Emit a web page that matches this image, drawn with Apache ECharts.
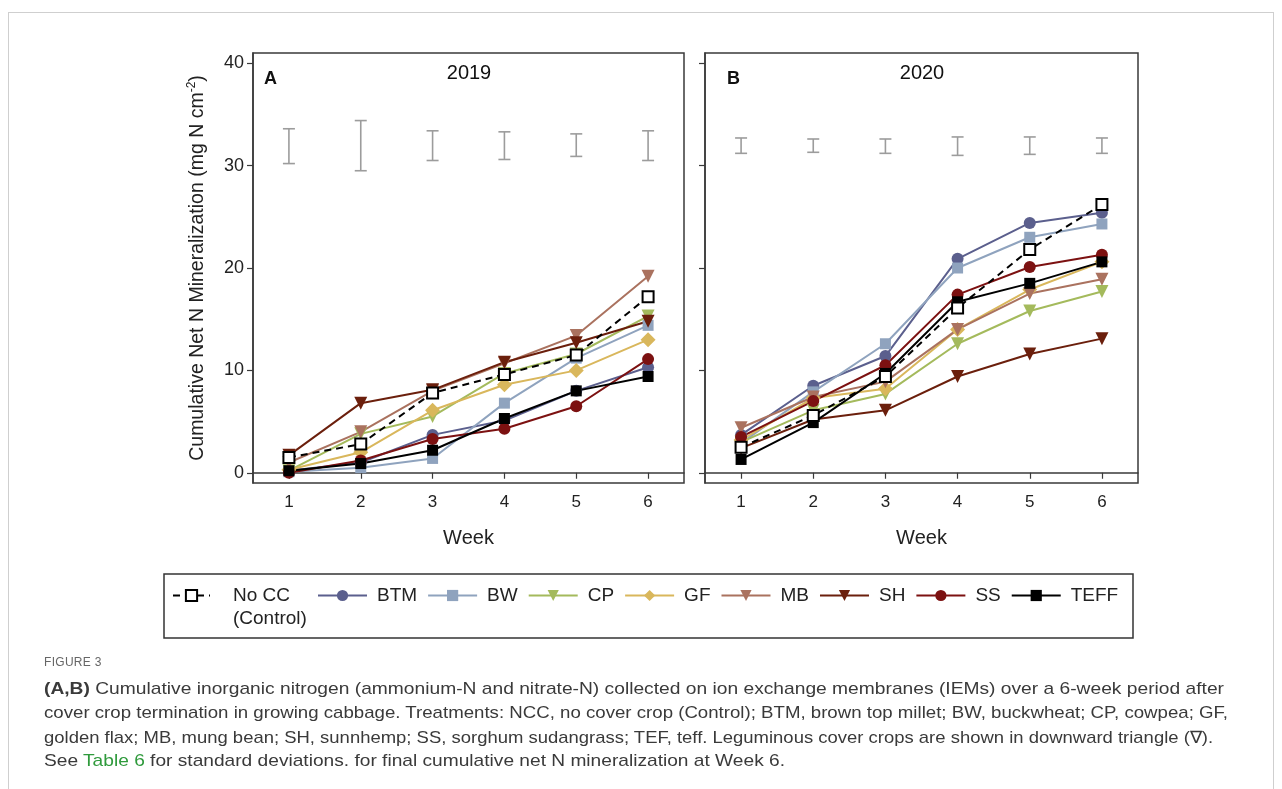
<!DOCTYPE html>
<html>
<head>
<meta charset="utf-8">
<script src="https://cdn.jsdelivr.net/npm/echarts@6/dist/echarts.min.js"></script>
<style>
  html, body { margin:0; padding:0; background:#fff; }
  #wrap { position:relative; width:1282px; height:789px; overflow:hidden; }
  #frame { position:absolute; left:8px; top:12px; width:1266px; height:800px; border:1px solid #cfcfcf; box-sizing:border-box; }
  #chart { position:absolute; left:0; top:0; width:1282px; height:789px; }
  .cap { position:absolute; left:44px; white-space:nowrap; font-family:"Liberation Sans Narrow","Liberation Sans",Arial,sans-serif; color:#3a3a3a; transform-origin:0 50%; }
  .fig { font-size:12px; color:#666; letter-spacing:0.3px; }
  .line { font-size:17px; }
  .lnk { color:#2f9a3c; }
</style>
</head>
<body>
<div id="wrap">
  <div id="frame"></div>
  <div id="chart"></div>
  <div class="cap fig" style="top:655px;">FIGURE 3</div>
  <div class="cap line" data-w="1180" style="top:679px;"><b>(A,B)</b> Cumulative inorganic nitrogen (ammonium-N and nitrate-N) collected on ion exchange membranes (IEMs) over a 6-week period after</div>
  <div class="cap line" data-w="1184" style="top:703px;">cover crop termination in growing cabbage. Treatments: NCC, no cover crop (Control); BTM, brown top millet; BW, buckwheat; CP, cowpea; GF,</div>
  <div class="cap line" data-w="1169" style="top:727px;">golden flax; MB, mung bean; SH, sunnhemp; SS, sorghum sudangrass; TEF, teff. Leguminous cover crops are shown in downward triangle (∇).</div>
  <div class="cap line" data-w="741" style="top:751px;">See <span class="lnk">Table 6</span> for standard deviations. for final cumulative net N mineralization at Week 6.</div>
</div>
<script>
// ---------------- DATA ----------------
const weeks = ['1', '2', '3', '4', '5', '6'];
const yTicks = [0, 10, 20, 30, 40];
const seriesNames = ['No CC', 'BTM', 'BW', 'CP', 'GF', 'MB', 'SH', 'SS', 'TEFF'];

// 2019 (panel A)
const noCC_2019 = [1.5, 2.8, 7.8, 9.6, 11.5, 17.2];
const btm_2019  = [0.2, 1.0, 3.7, 5.1, 8.0, 10.3];
const bw_2019   = [0.1, 0.5, 1.4, 6.8, 11.2, 14.4];
const cp_2019   = [0.2, 3.8, 5.5, 9.7, 11.6, 15.3];
const gf_2019   = [0.3, 2.0, 6.1, 8.6, 10.0, 13.0];
const mb_2019   = [1.0, 4.0, 8.0, 10.7, 13.4, 19.2];
const sh_2019   = [1.7, 6.8, 8.1, 10.8, 12.7, 14.8];
const ss_2019   = [0.0, 1.2, 3.3, 4.3, 6.5, 11.1];
const teff_2019 = [0.2, 0.9, 2.2, 5.3, 8.0, 9.4];

// 2020 (panel B)
const noCC_2020 = [2.5, 5.6, 9.4, 16.1, 21.8, 26.2];
const btm_2020  = [3.7, 8.5, 11.4, 20.9, 24.4, 25.4];
const bw_2020   = [2.9, 7.9, 12.6, 20.0, 23.0, 24.3];
const cp_2020   = [3.0, 6.1, 7.7, 12.6, 15.8, 17.7];
const gf_2020   = [3.2, 7.3, 8.2, 14.0, 17.9, 20.6];
const mb_2020   = [4.4, 7.4, 8.9, 14.0, 17.5, 18.9];
const sh_2020   = [2.4, 5.2, 6.1, 9.4, 11.6, 13.1];
const ss_2020   = [3.5, 7.0, 10.5, 17.4, 20.1, 21.3];
const teff_2020 = [1.3, 4.9, 9.7, 16.7, 18.5, 20.6];

// error bars drawn at top of each panel
const errLow_2019  = [30.2, 29.5, 30.5, 30.6, 30.9, 30.5];
const errHigh_2019 = [33.6, 34.4, 33.4, 33.3, 33.1, 33.4];
const errLow_2020  = [31.2, 31.3, 31.2, 31.0, 31.1, 31.2];
const errHigh_2020 = [32.7, 32.6, 32.6, 32.8, 32.8, 32.7];

// ---------------- STYLES ----------------
const styles = {
  'No CC': { color: '#000000', symbol: 'rect', size: 11, rotate: 0, dashed: true },
  'BTM':   { color: '#5b5f8d', symbol: 'circle', size: 12, rotate: 0 },
  'BW':    { color: '#8fa3be', symbol: 'rect', size: 11, rotate: 0 },
  'CP':    { color: '#a4ba5c', symbol: 'triangle', size: 13, rotate: 180 },
  'GF':    { color: '#d9b75c', symbol: 'diamond', size: 15, rotate: 0 },
  'MB':    { color: '#aa725f', symbol: 'triangle', size: 13, rotate: 180 },
  'SH':    { color: '#6b1f0c', symbol: 'triangle', size: 13, rotate: 180 },
  'SS':    { color: '#7c1111', symbol: 'circle', size: 12, rotate: 0 },
  'TEFF':  { color: '#000000', symbol: 'rect', size: 11, rotate: 0 }
};
const data2019 = { 'No CC': noCC_2019, 'BTM': btm_2019, 'BW': bw_2019, 'CP': cp_2019, 'GF': gf_2019, 'MB': mb_2019, 'SH': sh_2019, 'SS': ss_2019, 'TEFF': teff_2019 };
const data2020 = { 'No CC': noCC_2020, 'BTM': btm_2020, 'BW': bw_2020, 'CP': cp_2020, 'GF': gf_2020, 'MB': mb_2020, 'SH': sh_2020, 'SS': ss_2020, 'TEFF': teff_2020 };
const drawOrder = ['BTM', 'BW', 'CP', 'GF', 'MB', 'SH', 'SS', 'TEFF', 'No CC'];

const FONT = '"Liberation Sans", Arial, sans-serif';
const AXIS_COLOR = '#3a3a3a';

function lineSeries(name, values, idx) {
  const s = styles[name];
  const isOpen = name === 'No CC';
  return {
    type: 'line', name: name, xAxisIndex: idx, yAxisIndex: idx,
    data: values,
    symbol: s.symbol, symbolSize: s.size, symbolRotate: s.rotate,
    showAllSymbol: true,
    lineStyle: { color: s.color, width: 2, type: s.dashed ? [7, 5] : 'solid' },
    itemStyle: isOpen ? { color: '#ffffff', borderColor: '#000', borderWidth: 2 } : { color: s.color, borderWidth: 0 },
    z: isOpen ? 5 : 3,
    animation: false
  };
}

function errSeries(low, high, idx) {
  return {
    type: 'custom', xAxisIndex: idx, yAxisIndex: idx,
    data: weeks.map((w, i) => [i, low[i], high[i]]),
    encode: { x: 0, y: [1, 2] },
    silent: true, animation: false,
    renderItem: function (params, api) {
      const p1 = api.coord([api.value(0), api.value(1)]);
      const p2 = api.coord([api.value(0), api.value(2)]);
      const hw = 6;
      const st = { stroke: '#9c9c9c', lineWidth: 1.6 };
      return { type: 'group', children: [
        { type: 'line', shape: { x1: p1[0], y1: p1[1], x2: p2[0], y2: p2[1] }, style: st },
        { type: 'line', shape: { x1: p1[0] - hw, y1: p1[1], x2: p1[0] + hw, y2: p1[1] }, style: st },
        { type: 'line', shape: { x1: p2[0] - hw, y1: p2[1], x2: p2[0] + hw, y2: p2[1] }, style: st }
      ]};
    }
  };
}

function xAxis(idx) {
  return {
    type: 'category', gridIndex: idx, data: weeks, boundaryGap: true,
    name: 'Week', nameLocation: 'middle', nameGap: 45,
    nameTextStyle: { fontFamily: FONT, fontSize: 20, color: '#222' },
    axisLine: { show: true, lineStyle: { color: AXIS_COLOR, width: 1.5 } },
    axisTick: { show: true, alignWithLabel: true, length: 6, lineStyle: { color: AXIS_COLOR, width: 1.2 } },
    axisLabel: { fontFamily: FONT, fontSize: 17, color: '#222', margin: 11 },
    splitLine: { show: false }
  };
}

function yAxis(idx, showLabels) {
  const ax = {
    type: 'value', gridIndex: idx, min: -1, max: 41,
    axisLine: { show: true, lineStyle: { color: AXIS_COLOR, width: 1.5 } },
    axisTick: { show: true, length: 6, customValues: yTicks, lineStyle: { color: AXIS_COLOR, width: 1.2 } },
    axisLabel: { show: showLabels, customValues: yTicks, fontFamily: FONT, fontSize: 18, color: '#222', margin: 9 },
    splitLine: { show: false }
  };
  if (showLabels) {
    ax.name = '{a|Cumulative Net N Mineralization (mg N cm}{s|-2}{a|)}';
    ax.nameLocation = 'middle';
    ax.nameGap = 43;
    ax.nameRotate = 90;
    ax.nameTextStyle = {
      rich: {
        a: { fontFamily: FONT, fontSize: 19.5, color: '#222' },
        s: { fontFamily: FONT, fontSize: 12, color: '#222', verticalAlign: 'top', padding: [0, 0, 12, 0] }
      }
    };
  }
  return ax;
}

const series = [];
drawOrder.forEach(n => series.push(lineSeries(n, data2019[n], 0)));
drawOrder.forEach(n => series.push(lineSeries(n, data2020[n], 1)));
series.push(errSeries(errLow_2019, errHigh_2019, 0));
series.push(errSeries(errLow_2020, errHigh_2020, 1));

const legendText = { fontFamily: FONT, fontSize: 19, color: '#222' };

const option = {
  backgroundColor: 'transparent',
  animation: false,
  grid: [
    { left: 253, top: 53, width: 431, height: 430, show: true, borderColor: AXIS_COLOR, borderWidth: 1.5, backgroundColor: 'transparent' },
    { left: 705, top: 53, width: 433, height: 430, show: true, borderColor: AXIS_COLOR, borderWidth: 1.5, backgroundColor: 'transparent' }
  ],
  xAxis: [xAxis(0), xAxis(1)],
  yAxis: [yAxis(0, true), yAxis(1, false)],
  legend: [
    {
      data: ['No CC'], left: 172, top: 586, orient: 'horizontal', padding: 0,
      itemWidth: 37, itemHeight: 14, selectedMode: false,
      textStyle: Object.assign({ padding: [0, 0, 0, 18] }, legendText)
    },
    {
      data: ['BTM', 'BW', 'CP', 'GF', 'MB', 'SH', 'SS', 'TEFF'], left: 317, top: 586, orient: 'horizontal', padding: 0,
      itemWidth: 49, itemHeight: 14, itemGap: 10, selectedMode: false,
      textStyle: Object.assign({ padding: [0, 0, 0, 5] }, legendText)
    }
  ],
  graphic: [
    { type: 'rect', shape: { x: 164, y: 574, width: 969, height: 64 }, style: { fill: 'none', stroke: '#333', lineWidth: 1.5 }, silent: true },
    { type: 'text', left: 233, top: 609, style: { text: '(Control)', font: '19px ' + FONT, fill: '#222' }, silent: true },
    { type: 'text', x: 469, y: 73, style: { text: '2019', font: '20px ' + FONT, fill: '#111', align: 'center', verticalAlign: 'middle' }, silent: true },
    { type: 'text', x: 922, y: 73, style: { text: '2020', font: '20px ' + FONT, fill: '#111', align: 'center', verticalAlign: 'middle' }, silent: true },
    { type: 'text', x: 264, y: 79, style: { text: 'A', font: 'bold 18px ' + FONT, fill: '#111', verticalAlign: 'middle' }, silent: true },
    { type: 'text', x: 727, y: 79, style: { text: 'B', font: 'bold 18px ' + FONT, fill: '#111', verticalAlign: 'middle' }, silent: true }
  ],
  series: series
};

const chart = echarts.init(document.getElementById('chart'), null, { renderer: 'canvas' });
chart.setOption(option);

// fit caption lines to their measured widths in the reference
document.querySelectorAll('.cap.line').forEach(el => {
  const target = parseFloat(el.getAttribute('data-w'));
  const w = el.getBoundingClientRect().width;
  if (w > 0) el.style.transform = 'scaleX(' + (target / w).toFixed(4) + ')';
});
</script>
</body>
</html>
